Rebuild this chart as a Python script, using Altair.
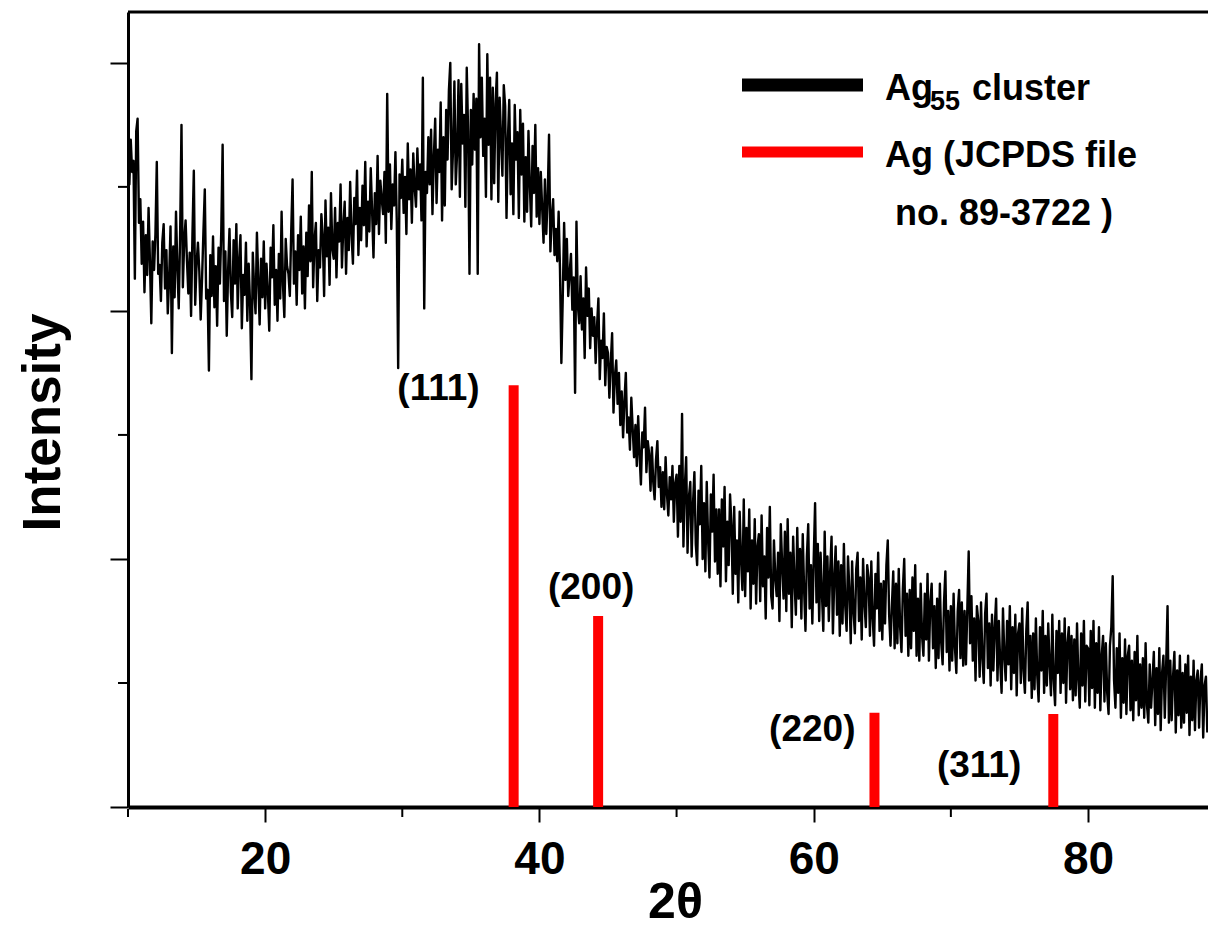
import altair as alt
import pandas as pd

# ---------------- data ----------------
theta_start = 10.0
theta_step = 0.1

seg_10 = [5.30, 5.02, 5.38, 5.12, 5.21, 4.26, 5.45, 5.55, 4.71, 4.90,
          4.38, 4.72, 4.15, 4.61, 4.29, 4.83, 4.40, 3.90, 4.56, 4.33,
          4.62, 5.20, 4.30, 4.37, 4.08, 4.55, 4.70, 4.18, 4.49, 3.98,
          4.26, 4.68, 3.66, 4.52, 4.11, 4.80, 4.35, 4.02, 4.61, 5.50,
          4.19, 4.57, 4.73, 4.40, 4.14, 4.47, 3.96, 4.62, 5.13, 4.05,
          4.38, 4.55, 4.32, 3.93, 4.26, 4.64, 4.98, 4.10, 4.17, 3.52,
          4.45, 4.12, 4.60, 4.03, 4.36, 3.88, 4.51, 4.22, 4.64, 5.34,
          4.08, 4.48, 3.80, 4.33, 4.66, 4.15, 3.95, 4.57, 4.22, 4.70,
          4.02, 4.40, 4.61, 3.86, 4.29, 4.13, 4.55, 3.92, 4.38, 4.06,
          3.45, 4.47, 4.18, 3.98, 4.63, 4.25, 3.89, 4.42, 4.11, 4.56]
seg_20 = [4.02, 4.38, 4.15, 3.84, 4.51, 4.27, 4.69, 4.05, 4.33, 3.92,
          4.46, 4.10, 4.80, 4.21, 3.95, 4.58, 4.36, 4.30, 4.12, 4.64,
          5.06, 4.22, 4.48, 4.05, 4.61, 4.33, 4.76, 4.14, 4.52, 4.02,
          4.63, 4.28, 4.85, 4.40, 5.12, 4.19, 4.57, 4.71, 4.08, 4.49,
          4.35, 4.78, 4.60, 4.12, 4.89, 4.44, 4.67, 4.21, 4.95, 4.50,
          4.42, 4.83, 4.27, 4.71, 4.56, 5.02, 4.35, 4.68, 4.88, 4.30,
          4.75, 4.49, 5.04, 4.62, 4.38, 4.91, 4.70, 5.13, 4.45, 4.83,
          4.57, 5.01, 4.69, 5.20, 4.52, 4.88, 4.64, 5.15, 4.80, 4.43,
          4.95, 4.70, 5.25, 4.62, 5.05, 4.90, 4.78, 5.12, 4.55, 5.75,
          4.80, 5.18, 4.66, 5.02, 4.85, 5.28, 4.72, 3.54, 5.10, 4.91]
seg_30 = [5.22, 4.79, 5.08, 4.62, 5.35, 4.90, 5.14, 4.71, 5.27, 5.00,
          4.84, 5.31, 4.98, 5.18, 4.73, 5.88, 4.02, 5.12, 4.95, 5.40,
          5.02, 5.46, 4.78, 5.24, 5.55, 4.87, 5.30, 5.12, 5.68, 4.73,
          5.40, 4.85, 5.62, 5.22, 5.78, 6.00, 4.98, 5.30, 5.85, 5.02,
          5.28, 5.86, 4.92, 5.83, 5.35, 5.58, 4.84, 5.96, 5.45, 4.30,
          5.62, 5.18, 5.75, 5.30, 5.71, 4.30, 6.15, 5.40, 5.88, 5.25,
          5.55, 4.92, 6.07, 5.34, 5.88, 4.90, 5.80, 5.03, 5.67, 5.92,
          4.88, 5.72, 5.40, 5.09, 5.82, 5.65, 4.75, 5.38, 5.70, 4.94,
          5.35, 4.78, 5.66, 5.22, 5.44, 4.75, 5.62, 5.10, 5.51, 4.72,
          5.24, 4.80, 5.45, 5.02, 4.68, 5.33, 4.95, 5.50, 4.76, 5.15]
seg_40 = [4.70, 5.12, 4.83, 4.55, 5.06, 4.62, 4.91, 5.42, 4.48, 4.76,
          4.90, 4.45, 4.66, 4.40, 4.80, 4.33, 3.58, 4.10, 4.71, 4.25,
          4.58, 4.12, 4.30, 4.46, 4.01, 4.27, 3.34, 4.72, 4.05, 3.90,
          4.28, 3.85, 4.10, 3.62, 4.35, 3.96, 4.18, 3.70, 4.02, 3.80,
          3.95, 3.58, 3.88, 4.10, 3.45, 3.76, 3.62, 3.98, 3.40, 3.71,
          3.66, 3.30, 3.58, 3.82, 3.18, 3.47, 3.60, 3.25, 3.50, 3.08,
          3.35, 2.98, 3.28, 3.50, 3.02, 3.14, 2.88, 3.30, 3.05, 2.82,
          3.08, 2.75, 3.15, 2.84, 2.60, 3.02, 2.90, 3.22, 2.70, 2.95,
          2.85, 2.55, 2.90, 2.62, 2.48, 2.80, 2.95, 2.58, 2.74, 2.42,
          2.70, 2.40, 2.82, 2.52, 2.35, 2.66, 2.48, 2.75, 2.30, 2.61]
seg_50 = [2.68, 2.18, 2.75, 2.30, 3.17, 2.10, 2.58, 2.82, 2.05, 2.50,
          2.62, 2.02, 2.45, 2.70, 2.12, 1.95, 2.55, 2.28, 2.75, 2.00,
          2.45, 1.90, 2.62, 2.15, 1.85, 2.52, 2.22, 2.68, 1.98, 2.40,
          1.88, 2.40, 1.78, 2.48, 2.10, 2.58, 1.82, 2.30, 1.95, 2.52,
          2.28, 1.72, 2.42, 1.88, 2.15, 1.65, 2.38, 2.00, 1.75, 2.48,
          1.70, 2.25, 1.90, 2.40, 1.60, 2.15, 1.80, 2.32, 1.64, 2.10,
          2.20, 1.66, 2.35, 1.78, 2.02, 1.52, 2.25, 1.85, 2.42, 1.70,
          1.60, 2.15, 1.85, 1.70, 2.05, 1.50, 2.28, 1.95, 1.68, 2.22,
          1.58, 2.32, 1.72, 2.05, 1.45, 2.18, 1.82, 1.55, 2.25, 1.68,
          2.08, 1.52, 2.20, 1.75, 1.42, 2.02, 2.28, 1.60, 1.95, 1.48]
seg_60 = [2.00, 2.45, 1.65, 2.12, 1.50, 2.05, 1.72, 1.42, 2.22, 1.62,
          2.02, 1.50, 1.90, 2.18, 1.40, 1.85, 2.10, 1.55, 1.98, 1.38,
          1.95, 1.48, 2.12, 1.62, 1.42, 2.02, 1.75, 1.32, 1.98, 1.58,
          1.40, 1.92, 2.05, 1.50, 1.85, 1.35, 2.00, 1.65, 1.45, 1.95,
          1.85, 1.38, 1.98, 1.52, 1.30, 1.88, 1.60, 2.05, 1.42, 1.80,
          1.35, 1.82, 1.48, 1.95, 2.15, 1.55, 1.30, 1.62, 1.90, 1.28,
          1.80, 1.32, 1.92, 1.45, 1.25, 1.76, 2.00, 1.38, 1.72, 1.22,
          1.75, 1.28, 1.85, 1.42, 1.95, 1.22, 1.68, 1.18, 1.80, 1.38,
          1.22, 1.72, 1.35, 1.88, 1.18, 1.65, 1.80, 1.28, 1.62, 1.12,
          1.68, 1.20, 1.80, 1.32, 1.15, 1.65, 1.90, 1.25, 1.58, 1.10]
seg_70 = [1.62, 1.18, 1.72, 1.28, 1.08, 1.58, 1.75, 1.20, 1.65, 1.14,
          1.58, 1.15, 1.60, 2.06, 1.32, 1.70, 1.18, 1.52, 1.02, 1.62,
          1.50, 1.05, 1.65, 1.20, 1.00, 1.56, 1.72, 1.12, 1.48, 0.98,
          1.55, 1.10, 1.45, 1.68, 1.02, 1.50, 1.16, 0.92, 1.60, 1.22,
          1.02, 1.50, 1.15, 1.62, 0.95, 1.45, 1.08, 1.55, 0.90, 1.40,
          1.48, 1.00, 1.60, 1.10, 0.92, 1.42, 1.65, 1.02, 1.38, 0.88,
          1.40, 0.95, 1.52, 1.06, 0.85, 1.45, 1.10, 1.58, 0.92, 1.38,
          0.98, 1.48, 1.15, 0.90, 1.55, 1.02, 0.82, 1.42, 1.08, 1.50,
          0.92, 1.40, 1.00, 1.52, 0.84, 1.32, 1.45, 0.95, 1.38, 0.86,
          1.35, 0.90, 1.48, 1.02, 0.80, 1.40, 0.98, 1.50, 0.85, 1.30]
seg_80 = [1.28, 0.82, 1.42, 0.96, 1.50, 0.80, 1.32, 0.92, 1.45, 0.78,
          1.22, 1.38, 0.85, 1.32, 0.92, 0.75, 1.30, 1.45, 1.86, 1.02,
          0.80, 1.28, 0.92, 1.40, 0.72, 1.20, 0.84, 1.35, 0.75, 1.22,
          1.30, 0.78, 1.18, 0.70, 1.25, 0.86, 1.38, 0.74, 1.15, 0.80,
          1.20, 0.72, 1.32, 0.82, 0.68, 1.15, 0.80, 1.02, 1.25, 0.66,
          1.12, 0.75, 1.28, 0.62, 1.08, 1.22, 0.72, 1.15, 1.62, 0.68,
          1.18, 0.70, 1.05, 1.25, 0.60, 1.10, 0.74, 1.22, 0.64, 1.08,
          0.68, 1.15, 0.76, 1.22, 0.58, 1.05, 0.70, 1.18, 0.62, 1.02,
          1.10, 0.64, 1.02, 1.15, 0.56, 0.98, 1.05, 0.60]

ref_theta = [38.12, 44.28, 64.43, 77.47]
ref_height = [3.40, 1.54, 0.76, 0.75]
ref_label = ["(111)", "(200)", "(220)", "(311)"]

major_x_ticks = [20, 40, 60, 80]
minor_x_ticks = [10, 30, 50, 70]
major_y_ticks = [0, 2, 4, 6]
minor_y_ticks = [1, 3, 5]

legend_sample = "Ag"
legend_sub = "55"
legend_cluster = "cluster"
legend_ref_line1 = "Ag (JCPDS file"
legend_ref_line2 = "no. 89-3722 )"

# ---------------- build ----------------
intensity = seg_10 + seg_20 + seg_30 + seg_40 + seg_50 + seg_60 + seg_70 + seg_80
two_theta = [round(theta_start + i * theta_step, 1) for i in range(len(intensity))]
xrd = pd.DataFrame({"theta": two_theta, "intensity": intensity})
peaks = pd.DataFrame({"theta": ref_theta, "height": ref_height, "label": ref_label})

W, H = 1080, 795
SANS = "Liberation Sans, Arial"

xs = alt.Scale(domain=[10, 88.75], nice=False, zero=False)
ys = alt.Scale(domain=[0, 6.41], nice=False, zero=False)

x_axis = alt.Axis(values=major_x_ticks, title="2θ", grid=False,
                  domainColor="black", domainWidth=4,
                  tickColor="black", tickWidth=2, tickSize=15,
                  labelFont=SANS, labelFontSize=46, labelFontWeight="bold",
                  labelColor="black", labelBaseline="alphabetic", labelPadding=51,
                  labelFlush=False, labelOverlap=False,
                  titleFont=SANS, titleFontSize=50, titleFontWeight="bold",
                  titleColor="black", titleX=547, titleY=110,
                  titleBaseline="alphabetic", titleAlign="center")
y_axis = alt.Axis(values=major_y_ticks, labels=False, grid=False,
                  domainColor="black", domainWidth=3,
                  tickColor="black", tickWidth=2, tickSize=18,
                  title="Intensity", titleFont=SANS, titleFontSize=53,
                  titleFontWeight="bold", titleColor="black", titleAngle=270,
                  titleX=-69, titleY=410, titleBaseline="alphabetic",
                  titleAlign="center")

line = alt.Chart(xrd).mark_line(color="black", strokeWidth=2.4, strokeJoin="round",
                                clip=True).encode(
    x=alt.X("theta:Q", scale=xs, axis=x_axis),
    y=alt.Y("intensity:Q", scale=ys, axis=y_axis),
)

bars = alt.Chart(peaks).mark_rule(color="#ff0000", strokeWidth=10).encode(
    x=alt.X("theta:Q", scale=xs),
    y=alt.Y("height:Q", scale=ys),
    y2=alt.datum(0),
)

label_style = {
    "(111)": dict(align="right", dx=-34, dy=4),
    "(200)": dict(align="center", dx=-7, dy=-28),
    "(220)": dict(align="right", dx=-19, dy=17),
    "(311)": dict(align="right", dx=-32, dy=52),
}
label_layers = []
for lab in ref_label:
    st = label_style[lab]
    label_layers.append(
        alt.Chart(peaks).transform_filter(alt.datum.label == lab).mark_text(
            font=SANS, fontSize=37, fontWeight="bold", color="black",
            baseline="middle", **st).encode(
            x=alt.X("theta:Q", scale=xs),
            y=alt.Y("height:Q", scale=ys),
            text="label:N")
    )

minor_x = alt.Chart(pd.DataFrame({"theta": minor_x_ticks})).mark_rule(
    color="black", strokeWidth=2).encode(
    x=alt.X("theta:Q", scale=xs), y=alt.value(H + 2), y2=alt.value(H + 10))
minor_y = alt.Chart(pd.DataFrame({"intensity": minor_y_ticks})).mark_rule(
    color="black", strokeWidth=2).encode(
    y=alt.Y("intensity:Q", scale=ys), x=alt.value(-1), x2=alt.value(-10))

top_frame = alt.Chart(pd.DataFrame({"a": [0]})).mark_rule(
    color="black", strokeWidth=3).encode(
    x=alt.value(0), x2=alt.value(W), y=alt.value(0))


def legend_text(txt, x, y, size):
    return alt.Chart(pd.DataFrame({"t": [txt]})).mark_text(
        font=SANS, fontSize=size, fontWeight="bold", color="black",
        align="left", baseline="alphabetic").encode(
        x=alt.value(x), y=alt.value(y), text="t:N")


leg_black = alt.Chart(pd.DataFrame({"a": [0]})).mark_rule(
    color="black", strokeWidth=13).encode(
    x=alt.value(614), x2=alt.value(735), y=alt.value(73))
leg_red = alt.Chart(pd.DataFrame({"a": [0]})).mark_rule(
    color="#ff0000", strokeWidth=11).encode(
    x=alt.value(614), x2=alt.value(735), y=alt.value(140))

legend = [
    leg_black, leg_red,
    legend_text(legend_sample, 757, 88, 36),
    legend_text(legend_sub, 802, 98, 27),
    legend_text(legend_cluster, 844, 88, 36),
    legend_text(legend_ref_line1, 757, 155, 36),
    legend_text(legend_ref_line2, 767, 213, 36),
]

chart = alt.layer(
    line, bars, *label_layers, minor_x, minor_y, top_frame, *legend
).properties(
    width=W, height=H,
    autosize=alt.AutoSizeParams(type="none"),
    padding={"left": 120, "top": 4, "right": 0, "bottom": 122},
).configure_view(stroke=None).configure_axis(grid=False)

chart.save("out.html", embed_options={"renderer": "svg", "actions": False})
